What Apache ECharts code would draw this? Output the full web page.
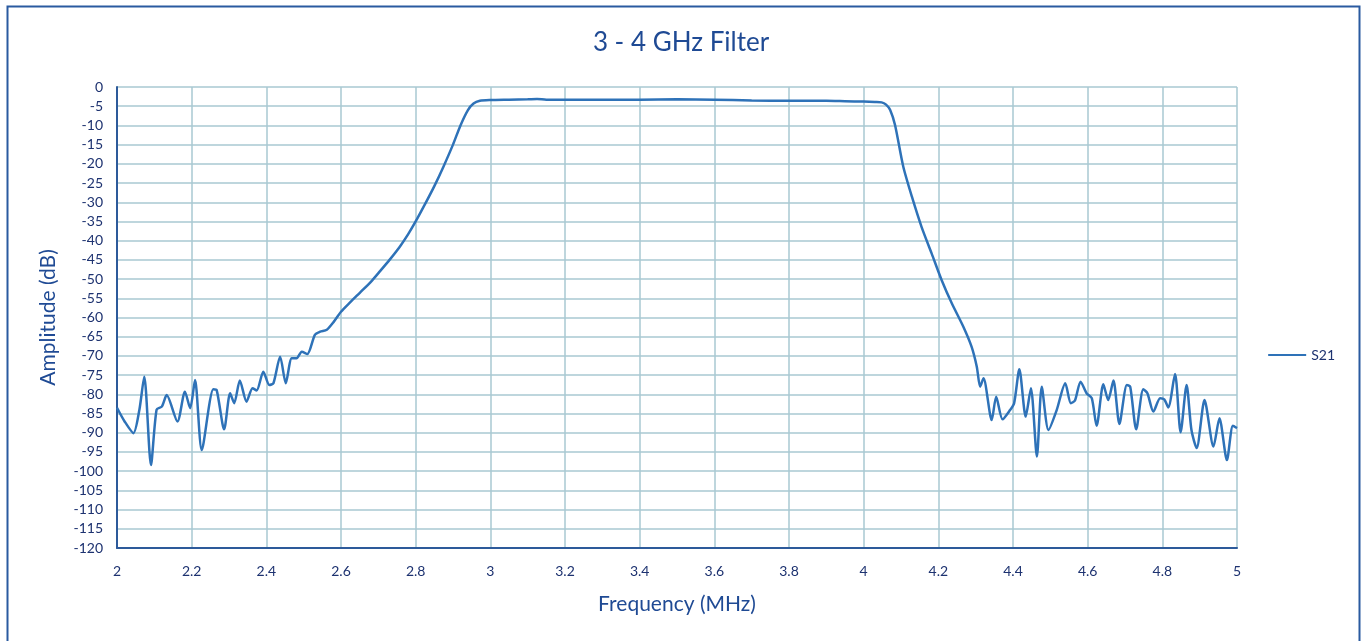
<!DOCTYPE html>
<html>
<head>
<meta charset="utf-8">
<script src="https://cdn.jsdelivr.net/npm/echarts@6/dist/echarts.min.js"></script>
<style>
html,body{margin:0;padding:0;background:#fff;}
#c{width:1362px;height:641px;}
</style>
</head>
<body>
<div id="c"></div>
<script>
const title = "3 - 4 GHz Filter";
const seriesName = "S21";
const xAxisName = "Frequency (MHz)";
const yAxisName = "Amplitude (dB)";

const freq = [
  2.0, 2.02, 2.044, 2.06, 2.073, 2.091, 2.106, 2.12, 2.133, 2.162, 2.182, 2.196, 2.209, 2.227,
  2.258, 2.267, 2.287, 2.303, 2.314, 2.329, 2.347, 2.363, 2.374, 2.392, 2.408, 2.419, 2.437,
  2.452, 2.468, 2.481, 2.495, 2.51, 2.53, 2.544, 2.562, 2.58, 2.6, 2.625, 2.651, 2.68, 2.704,
  2.73, 2.758, 2.78, 2.8, 2.825, 2.85, 2.875, 2.9, 2.92, 2.94, 2.955, 2.972, 3.0, 3.05, 3.1,
  3.125, 3.15, 3.2, 3.3, 3.4, 3.5, 3.6, 3.7, 3.8, 3.9, 3.95, 4.0, 4.03, 4.048, 4.06, 4.071,
  4.084, 4.106, 4.129, 4.155, 4.182, 4.209, 4.236, 4.267, 4.289, 4.303, 4.312, 4.321, 4.343,
  4.355, 4.372, 4.392, 4.403, 4.417, 4.434, 4.448, 4.464, 4.477, 4.495, 4.517, 4.54, 4.555,
  4.566, 4.581, 4.597, 4.611, 4.624, 4.642, 4.655, 4.669, 4.685, 4.705, 4.714, 4.73, 4.749,
  4.76, 4.776, 4.794, 4.805, 4.816, 4.834, 4.849, 4.865, 4.878, 4.892, 4.913, 4.937, 4.953,
  4.973, 4.989, 5.0
];
const s21 = [
  -83.5, -87, -90.1, -84, -75.4, -98.4, -84, -83.2, -80.2, -87.1, -79.3, -83.6, -76.3, -94.5,
  -78.7, -78.9, -89.1, -79.7, -82.3, -76.4, -81.9, -78.4, -79, -74.1, -77.6, -77.1, -70.2,
  -77.1, -70.6, -70.6, -68.9, -69.5, -64.5, -63.7, -63.2, -61.2, -58.5, -56, -53.5, -50.7, -48,
  -45, -41.5, -38.3, -35, -30.5, -25.8, -20.6, -15, -10, -6, -4.3, -3.6, -3.4, -3.3, -3.2,
  -3.1, -3.3, -3.3, -3.3, -3.3, -3.2, -3.3, -3.5, -3.6, -3.6, -3.7, -3.8, -3.9, -4.0, -4.6, -6,
  -9.9, -20.7, -28.5, -36.4, -43.3, -50.3, -56.3, -62.4, -67.6, -72.8, -78, -75.8, -86.7,
  -80.6, -86.5, -84.1, -82.3, -73.5, -85.8, -78.4, -96.2, -78, -89.3, -84.1, -77.1, -82.3,
  -81.6, -76.7, -79.7, -81, -88.2, -77.4, -81.5, -76.4, -87.7, -77.6, -78, -89.1, -78.7,
  -79.7, -84.5, -81, -81.3, -83.4, -74.7, -89.9, -77.6, -89.3, -94, -81.5, -93.6, -86.2,
  -97.1, -88.2, -88.8
];

const navy = '#1d3270';
const blue = '#2e72b8';
const gridCol = '#a9c9d2';

const chart = echarts.init(document.getElementById('c'), null, {renderer: 'canvas'});
chart.setOption({
  backgroundColor: '#ffffff',
  animation: false,
  title: {
    text: title, left: 'center', top: 25,
    textStyle: {color: '#1f4a94', fontSize: 26, fontWeight: 'normal', fontFamily: 'Lato'}
  },
  legend: {
    right: 22, top: 343, orient: 'vertical',
    itemWidth: 38, itemHeight: 14, itemGap: 6,
    icon: 'path://M0,6 L38,6 L38,8 L0,8 Z',
    data: [seriesName],
    textStyle: {color: navy, fontSize: 14, fontFamily: 'Lato'}
  },
  grid: {left: 117, right: 125, top: 87, bottom: 93, containLabel: false},
  xAxis: {
    type: 'value', min: 2, max: 5, interval: 0.2,
    name: xAxisName, nameLocation: 'middle', nameGap: 46,
    nameTextStyle: {color: '#1f4a94', fontSize: 21, fontFamily: 'Lato'},
    axisLine: {show: true, onZero: false, lineStyle: {color: '#2d5a9a', width: 2}},
    axisTick: {show: false},
    axisLabel: {color: navy, fontSize: 14, margin: 16, fontFamily: 'Lato',
      formatter: v => String(+v.toFixed(1))},
    splitLine: {show: true, lineStyle: {color: gridCol, width: 1.5}}
  },
  yAxis: {
    type: 'value', min: -120, max: 0, interval: 5,
    name: yAxisName, nameLocation: 'middle', nameGap: 58, nameRotate: 90,
    nameTextStyle: {color: '#1f4a94', fontSize: 21, fontFamily: 'Lato'},
    axisLine: {show: true, onZero: false, lineStyle: {color: '#2d5a9a', width: 2}},
    axisTick: {show: false},
    axisLabel: {color: navy, fontSize: 14, margin: 14, fontFamily: 'Lato'},
    splitLine: {show: true, lineStyle: {color: gridCol, width: 1.5}}
  },
  series: [{
    name: seriesName, type: 'line',
    data: freq.map((f, i) => [f, s21[i]]),
    smooth: 0.25, showSymbol: false, symbol: 'none',
    lineStyle: {color: blue, width: 2.5},
    itemStyle: {color: blue}
  }],
  graphic: [{
    type: 'rect', left: 5, top: 4, silent: true,
    shape: {width: 1352, height: 680},
    style: {fill: 'none', stroke: '#2a5aa0', lineWidth: 2}
  }]
});
</script>
</body>
</html>
